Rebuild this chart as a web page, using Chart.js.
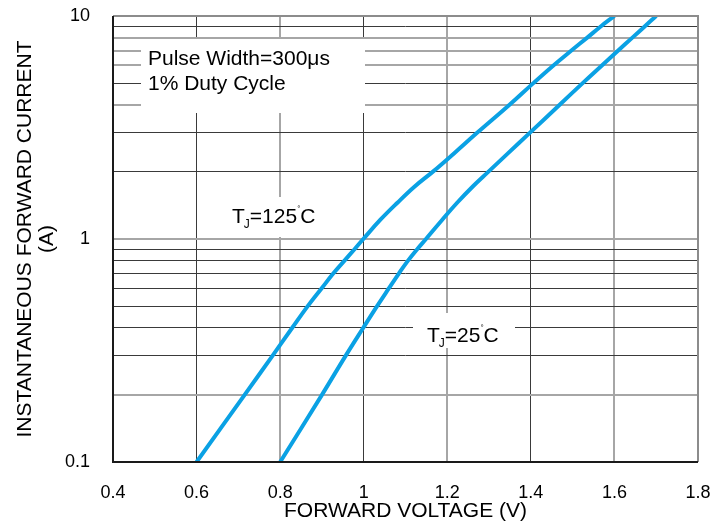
<!DOCTYPE html>
<html>
<head>
<meta charset="utf-8">
<script src="https://cdn.jsdelivr.net/npm/chart.js@4.4.1/dist/chart.umd.min.js"></script>
<style>
    html, body { margin: 0; padding: 0; background: #ffffff; }
    #wrap { width: 728px; height: 526px; }
</style>
</head>
<body>
<div id="wrap"><canvas id="chart"></canvas></div>
<script>
// curve values (V, A)
const hotVoltage = [0.600, 0.715, 0.782, 0.829, 0.866, 0.899, 0.927, 0.954, 0.978, 0.999, 1.040, 1.080, 1.122, 1.165, 1.216, 1.272, 1.349, 1.406, 1.454, 1.497, 1.535, 1.568, 1.600]
const hotCurrent = [0.1, 0.2, 0.3, 0.4, 0.5, 0.6, 0.7, 0.8, 0.9, 1, 1.22, 1.45, 1.72, 2, 2.42, 3, 4, 5, 6, 7, 8, 9, 10]
const coldVoltage = [0.800, 0.900, 0.957, 0.999, 1.032, 1.060, 1.084, 1.106, 1.128, 1.149, 1.188, 1.223, 1.261, 1.298, 1.345, 1.398, 1.469, 1.524, 1.570, 1.609, 1.643, 1.673, 1.700]
const coldCurrent = [0.1, 0.2, 0.3, 0.4, 0.5, 0.6, 0.7, 0.8, 0.9, 1, 1.22, 1.45, 1.72, 2, 2.42, 3, 4, 5, 6, 7, 8, 9, 10]

// axes
const xMin = 0.4
const xMax = 1.8
const xStep = 0.2
const xTickLabels = ['0.4', '0.6', '0.8', '1', '1.2', '1.4', '1.6', '1.8']
const yTickValues = [0.1, 0.2, 0.3, 0.4, 0.5, 0.6, 0.7, 0.8, 0.9, 1, 2, 3, 4, 5, 6, 7, 8, 9, 10]
const yTickLabels = ['0.1', '', '', '', '', '', '', '', '', '1', '', '', '', '', '', '', '', '', '10']

// which grid lines look light grey in the original
const yGreyLines = [0.2, 1, 4, 6, 7, 8]
const xGreyLines = [0.8, 1.2, 1.6]

const FONT = "'Liberation Sans', Arial, sans-serif"
const BLUE = '#0aa1e4'
const DARK = '#3a3a3a'
const GREY = '#a6a6a6'

const toPoints = (xs, ys) => xs.map((x, i) => ({ x: x, y: ys[i] }))
const isGreyX = (v) => xGreyLines.includes(Math.round(v * 10) / 10)

// white boxes + text over the grid, and the frame round the plot
const notes = {
    id: 'notes',
    beforeDatasetsDraw(chart) {
        const ctx = chart.ctx
        const a = chart.chartArea
        ctx.save()
        ctx.fillStyle = '#ffffff'
        ctx.fillRect(a.left + 28, a.top + 23, 224, 74)
        ctx.fillRect(a.left + 109, a.top + 181, 103, 40)
        ctx.fillRect(a.left + 300, a.top + 297, 102, 35)

        ctx.fillStyle = '#000000'
        ctx.textBaseline = 'alphabetic'
        ctx.textAlign = 'left'
        ctx.font = '21px ' + FONT
        ctx.fillText('Pulse Width=300\u03bcs', a.left + 35, a.top + 49)
        ctx.fillText('1% Duty Cycle', a.left + 35, a.top + 74)

        tempLabel(ctx, a.left + 119, a.top + 207, '125')
        tempLabel(ctx, a.left + 314, a.top + 326, '25')
        ctx.restore()
    },
    afterDatasetsDraw(chart) {
        const ctx = chart.ctx
        const a = chart.chartArea
        ctx.save()
        ctx.lineWidth = 2
        // top and right are grey
        ctx.strokeStyle = '#8c8c8c'
        ctx.beginPath()
        ctx.moveTo(a.left, a.top)
        ctx.lineTo(a.right, a.top)
        ctx.lineTo(a.right, a.bottom)
        ctx.stroke()
        // left and bottom are black
        ctx.strokeStyle = '#1a1a1a'
        ctx.beginPath()
        ctx.moveTo(a.left, a.top)
        ctx.lineTo(a.left, a.bottom)
        ctx.lineTo(a.right, a.bottom)
        ctx.stroke()
        ctx.restore()
    }
}

// T_J=xx°C with a subscript J and small degree sign
function tempLabel(ctx, x, y, temp) {
    ctx.font = '21px ' + FONT
    ctx.fillText('T', x, y)
    x += ctx.measureText('T').width - 1
    ctx.font = '12px ' + FONT
    ctx.fillText('J', x, y + 5)
    x += ctx.measureText('J').width
    ctx.font = '21px ' + FONT
    ctx.fillText('=' + temp, x, y)
    x += ctx.measureText('=' + temp).width
    ctx.font = '8px ' + FONT
    ctx.fillText('\u00b0', x, y - 12)
    x += 3
    ctx.font = '21px ' + FONT
    ctx.fillText('C', x, y)
}

const ctx = document.getElementById('chart').getContext('2d')
new Chart(ctx, {
    type: 'line',
    data: {
        datasets: [
            {
                label: 'TJ=125°C',
                data: toPoints(hotVoltage, hotCurrent),
                borderColor: BLUE,
                borderWidth: 4,
                pointRadius: 0,
                tension: 0.4,
            },
            {
                label: 'TJ=25°C',
                data: toPoints(coldVoltage, coldCurrent),
                borderColor: BLUE,
                borderWidth: 4,
                pointRadius: 0,
                tension: 0.4,
            }
        ]
    },
    options: {
        responsive: true,
        maintainAspectRatio: false,
        animation: false,
        parsing: false,
        layout: {
            padding: { left: 0, right: 30, top: 16, bottom: 0 }
        },
        plugins: {
            legend: { display: false },
            tooltip: { enabled: false }
        },
        scales: {
            x: {
                type: 'linear',
                min: xMin,
                max: xMax,
                border: { display: false },
                grid: {
                    // invisible tick marks push the labels down without adding side padding
                    drawTicks: true,
                    tickLength: 20,
                    tickColor: 'rgba(0,0,0,0)',
                    color: (c) => isGreyX(c.tick.value) ? GREY : DARK,
                    lineWidth: (c) => isGreyX(c.tick.value) ? 2 : 1,
                },
                ticks: {
                    stepSize: xStep,
                    padding: 0,
                    color: '#000000',
                    font: { family: FONT, size: 18 },
                    callback: (value, index) => xTickLabels[index],
                },
                title: {
                    display: true,
                    text: 'FORWARD VOLTAGE (V)',
                    color: '#000000',
                    font: { family: FONT, size: 21 },
                    padding: { top: 0, bottom: 2 },
                },
                afterFit: (scale) => { scale.height = 64 }
            },
            y: {
                type: 'logarithmic',
                min: 0.1,
                max: 10,
                border: { display: false },
                grid: {
                    drawTicks: true,
                    tickLength: 23,
                    tickColor: 'rgba(0,0,0,0)',
                    color: (c) => yGreyLines.includes(c.tick.value) ? GREY : DARK,
                    lineWidth: (c) => yGreyLines.includes(c.tick.value) ? 2 : 1,
                },
                afterBuildTicks: (scale) => {
                    scale.ticks = yTickValues.map(v => ({ value: v }))
                },
                ticks: {
                    autoSkip: false,
                    padding: 0,
                    color: '#000000',
                    font: { family: FONT, size: 18 },
                    callback: (value, index) => yTickLabels[index],
                },
                title: {
                    display: true,
                    text: ['INSTANTANEOUS FORWARD CURRENT', '(A)'],
                    color: '#000000',
                    font: { family: FONT, size: 21, lineHeight: 1.05 },
                    padding: { top: 14, bottom: 0 },
                },
                afterFit: (scale) => { scale.width = 113 }
            }
        }
    },
    plugins: [notes]
});
</script>
</body>
</html>
